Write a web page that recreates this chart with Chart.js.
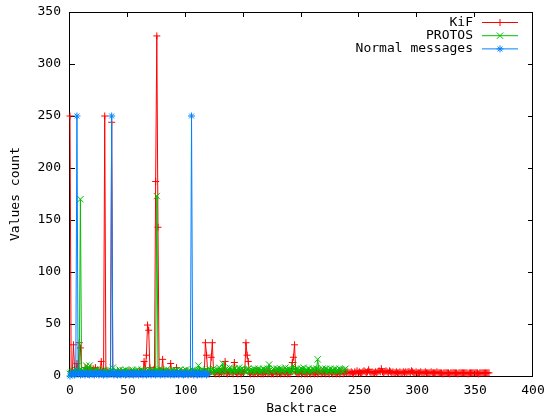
<!doctype html>
<html lang="en">
<head>
    <title>Values count per backtrace</title>
    <script src="https://cdnjs.cloudflare.com/ajax/libs/Chart.js/4.4.1/chart.umd.min.js"></script>
    <style>
        body { margin: 0; background: #fff; }
    </style>
</head>
<body onload="init()">
<canvas id="chart" width="549" height="417"></canvas>

<script>
    // values count for each backtrace index (index = x)
    const kif = [
        250, 4, 4, 30, 6, 3, 12, 5, 32, 27, 4, 2, 3, 8, 3, 7, 2, 6, 8, 3,
        7, 2, 8, 3, 6, 2, 5, 14, 4, 5, 250, 4, 5, 2, 3, 4, 244, 3, 2, 3,
        2, 4, 3, 2, 5, 3, 2, 3, 4, 2, 3, 5, 2, 3, 2, 4, 3, 2, 3, 2,
        4, 3, 2, 3, 14, 5, 20, 49, 44, 8, 4, 3, 6, 5, 187, 327, 143, 5, 5, 3,
        16, 4, 3, 5, 2, 4, 3, 12, 3, 2, 4, 3, 8, 3, 2, 3, 4, 2, 3, 2,
        3, 5, 2, 3, 4, 2, 3, 2, 4, 3, 2, 3, 5, 2, 3, 4, 3, 32, 20, 3,
        2, 4, 18, 32, 4, 3, 2, 5, 3, 2, 4, 3, 6, 3, 14, 3, 2, 4, 3, 5,
        3, 2, 13, 4, 3, 2, 5, 3, 2, 4, 3, 5, 32, 20, 14, 3, 2, 4, 3, 2,
        3, 5, 2, 3, 4, 2, 3, 2, 4, 3, 5, 2, 3, 4, 2, 3, 2, 5, 3, 2,
        4, 3, 2, 3, 5, 2, 3, 4, 2, 3, 2, 4, 13, 18, 30, 4, 3, 2, 3, 5,
        2, 3, 4, 2, 3, 2, 5, 3, 2, 4, 3, 2, 3, 4, 2, 3, 5, 2, 3, 4,
        3, 2, 4, 3, 2, 5, 3, 2, 4, 3, 2, 3, 4, 2, 3, 5, 2, 3, 4, 3,
        4, 3, 3, 4, 3, 2, 4, 3, 5, 3, 4, 3, 3, 4, 5, 4, 3, 4, 6, 4,
        3, 4, 3, 3, 4, 3, 4, 5, 4, 7, 4, 3, 4, 5, 4, 3, 5, 4, 3, 4,
        3, 3, 4, 3, 3, 4, 3, 3, 4, 3, 4, 3, 4, 4, 3, 5, 4, 3, 3, 4,
        3, 3, 3, 4, 3, 3, 3, 4, 3, 3, 3, 3, 4, 3, 3, 3, 3, 4, 3, 3,
        3, 3, 2, 3, 3, 3, 3, 3, 2, 3, 3, 3, 3, 3, 3, 2, 3, 3, 3, 3,
        3, 3, 3, 3, 2, 3, 3, 3, 3, 3, 3, 3, 3, 2, 3, 3, 3, 3, 3, 3,
        3, 3, 3
    ];
    const protos = [
        2, 3, 4, 5, 3, 6, 4, 3, 5, 170, 5, 5, 4, 6, 10, 5, 4, 10, 6, 4,
        3, 5, 4, 6, 3, 4, 5, 3, 4, 6, 3, 4, 5, 3, 4, 3, 5, 8, 4, 3,
        5, 4, 3, 6, 4, 3, 5, 4, 6, 3, 4, 5, 3, 4, 6, 4, 3, 5, 6, 4,
        5, 3, 6, 4, 5, 3, 4, 6, 5, 3, 4, 5, 6, 4, 5, 173, 5, 5, 4, 6,
        3, 5, 4, 6, 4, 3, 5, 4, 3, 6, 4, 5, 3, 4, 5, 6, 3, 4, 5, 4,
        6, 3, 4, 5, 3, 4, 6, 4, 5, 3, 4, 10, 5, 4, 6, 3, 5, 4, 6, 5,
        4, 6, 5, 3, 7, 5, 4, 6, 5, 8, 4, 6, 12, 5, 4, 7, 6, 5, 8, 4,
        6, 5, 7, 4, 6, 5, 8, 6, 4, 7, 6, 5, 4, 6, 7, 5, 4, 6, 5, 7,
        4, 6, 5, 7, 4, 6, 5, 7, 6, 4, 5, 7, 11, 6, 5, 4, 7, 6, 5, 7,
        6, 4, 7, 5, 6, 4, 8, 6, 5, 7, 4, 6, 5, 10, 6, 5, 7, 4, 6, 5,
        7, 5, 8, 4, 6, 5, 7, 4, 6, 5, 7, 6, 5, 7, 16, 6, 5, 4, 7, 6,
        5, 7, 4, 6, 5, 7, 4, 6, 5, 7, 4, 6, 5, 7, 6, 5, 4, 6, 7
    ];
    const normal = [
        0, 2, 3, 2, 1, 2, 250, 2, 3, 1, 2, 3, 2, 1, 3, 2, 2, 1, 3, 2,
        2, 1, 3, 2, 3, 1, 2, 3, 2, 1, 2, 3, 1, 2, 2, 2, 250, 2, 1, 3,
        2, 1, 3, 2, 1, 2, 3, 2, 1, 2, 3, 1, 2, 3, 2, 1, 2, 2, 3, 1,
        2, 3, 2, 1, 2, 3, 1, 2, 3, 2, 1, 2, 3, 2, 1, 2, 3, 2, 1, 2,
        3, 2, 1, 2, 3, 2, 2, 1, 3, 2, 1, 2, 3, 2, 1, 2, 3, 2, 1, 2,
        3, 2, 1, 2, 2, 250, 2, 1, 3, 2, 1, 2, 3, 2, 1, 2, 3, 2, 1, 2
    ];

    const xTicks = [0, 50, 100, 150, 200, 250, 300, 350, 400];
    const yTicks = [0, 50, 100, 150, 200, 250, 300, 350];

    const seriesNames = ['KiF', 'PROTOS', 'Normal messages'];
    const seriesColors = ['#ff0000', '#00c000', '#0080ff'];
    const seriesMarkers = ['cross', 'crossRot', 'star'];

    function init() {
        Chart.defaults.font.family = "'DejaVu Sans Mono', monospace";
        Chart.defaults.font.size = 13;
        Chart.defaults.color = '#000';

        // gnuplot style: closed border with inward ticks on all four sides
        const framePlugin = {
            id: 'frame',
            beforeDatasetsDraw(chart) {
                const {ctx, chartArea: a} = chart;
                const x = chart.scales.x, y = chart.scales.y;
                const tl = 5;
                ctx.save();
                ctx.strokeStyle = '#000';
                ctx.lineWidth = 1;
                ctx.strokeRect(a.left - 0.5, a.top + 0.5, a.right - a.left, a.bottom - a.top);
                ctx.beginPath();
                x.ticks.forEach(function (t) {
                    const px = Math.round(x.getPixelForValue(t.value)) - 0.5;
                    ctx.moveTo(px, a.bottom);
                    ctx.lineTo(px, a.bottom - tl);
                    ctx.moveTo(px, a.top);
                    ctx.lineTo(px, a.top + tl);
                });
                y.ticks.forEach(function (t) {
                    const py = Math.round(y.getPixelForValue(t.value)) + 0.5;
                    ctx.moveTo(a.left, py);
                    ctx.lineTo(a.left + tl, py);
                    ctx.moveTo(a.right, py);
                    ctx.lineTo(a.right - tl, py);
                });
                ctx.stroke();
                ctx.restore();
            }
        };

        // key in the top right corner: text, then a line sample with its marker
        const keyPlugin = {
            id: 'key',
            afterDraw(chart) {
                const ctx = chart.ctx;
                const a = chart.chartArea;
                ctx.save();
                ctx.font = "13px 'DejaVu Sans Mono', monospace";
                ctx.textAlign = 'right';
                ctx.textBaseline = 'middle';
                chart.data.datasets.forEach(function (ds, i) {
                    const rowY = 22.5 + i * 13.2;
                    ctx.fillStyle = '#000';
                    ctx.fillText(ds.label, a.right - 60, rowY);
                    ctx.strokeStyle = ds.borderColor;
                    ctx.lineWidth = 1;
                    ctx.beginPath();
                    ctx.moveTo(a.right - 51, rowY);
                    ctx.lineTo(a.right - 15, rowY);
                    ctx.stroke();
                    Chart.helpers.drawPoint(ctx, {
                        pointStyle: ds.pointStyle,
                        radius: ds.pointRadius,
                        rotation: 0,
                        borderWidth: 1
                    }, a.right - 33, rowY);
                });
                ctx.restore();
            }
        };

        const series = [kif, protos, normal];
        const datasets = series.map(function (values, i) {
            return {
                label: seriesNames[i],
                data: values.map(function (v, idx) { return {x: idx, y: v}; }),
                borderColor: seriesColors[i],
                backgroundColor: seriesColors[i],
                borderWidth: 1,
                pointStyle: seriesMarkers[i],
                pointRadius: i === 1 ? 4.5 : 3.5,
                pointBorderWidth: 1,
                tension: 0,
                clip: false,
                order: 2 - i,
            };
        });

        new Chart(document.getElementById('chart'), {
            type: 'line',
            data: {datasets: datasets},
            options: {
                responsive: false,
                animation: false,
                layout: {
                    padding: {top: 12, right: 16, left: 0, bottom: 0},
                },
                plugins: {
                    legend: {display: false},
                    tooltip: {enabled: false},
                },
                scales: {
                    x: {
                        type: 'linear',
                        min: 0,
                        max: 400,
                        afterBuildTicks: function (scale) {
                            scale.ticks = xTicks.map(function (v) { return {value: v}; });
                        },
                        afterFit: function (scale) {
                            scale.height = 41;
                            scale.paddingLeft = 0;
                            scale.paddingRight = 0;
                        },
                        grid: {display: false, drawTicks: false},
                        border: {display: false},
                        ticks: {padding: 7, maxRotation: 0},
                        title: {
                            display: true,
                            text: 'Backtrace',
                            padding: {top: 0, bottom: 1},
                        },
                    },
                    y: {
                        type: 'linear',
                        min: 0,
                        max: 350,
                        afterBuildTicks: function (scale) {
                            scale.ticks = yTicks.map(function (v) { return {value: v}; });
                        },
                        afterFit: function (scale) {
                            scale.width = 70;
                            scale.paddingTop = 0;
                            scale.paddingBottom = 0;
                        },
                        grid: {display: false, drawTicks: false},
                        border: {display: false},
                        ticks: {padding: 9},
                        title: {
                            display: true,
                            text: 'Values count',
                            padding: {top: 8, bottom: 0},
                        },
                    },
                },
            },
            plugins: [framePlugin, keyPlugin],
        });
    }
</script>
</body>
</html>
